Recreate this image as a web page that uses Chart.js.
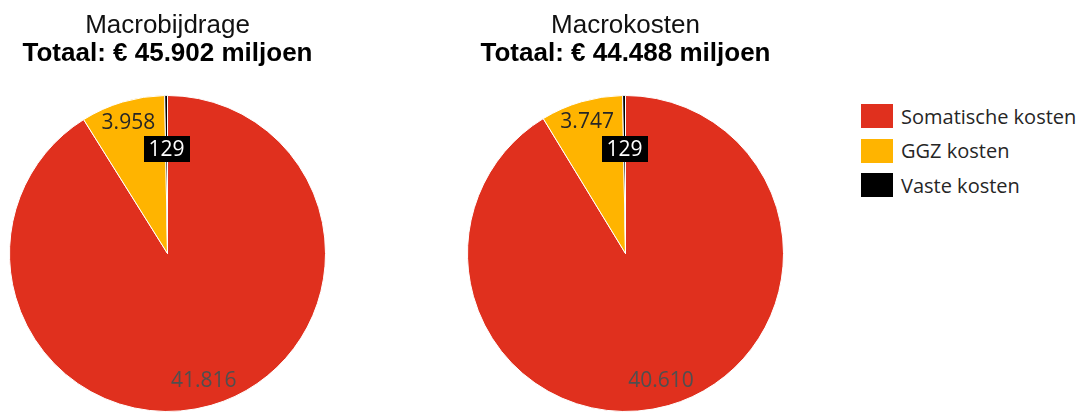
<!DOCTYPE html>
<html lang="nl">
<head>
<meta charset="utf-8">
<title>Macrobijdrage en macrokosten</title>
<script src="https://cdn.jsdelivr.net/npm/chart.js@4/dist/chart.umd.min.js"></script>
<style>
  body { margin: 0; background: #fff; width: 1081px; height: 412px; overflow: hidden; }
  .pie-box { position: absolute; top: 0; width: 335px; height: 412px; }
  #box-bijdrage { left: 0; }
  #box-kosten { left: 458px; }
  #legend { position: absolute; left: 861px; top: 104px; font-family: "Open Sans", sans-serif; font-size: 20px; color: #262626; }
  .lg-item { display: flex; align-items: center; height: 24px; margin-bottom: 10.5px; }
  .lg-swatch { width: 32px; height: 24px; margin-right: 8px; }
</style>
</head>
<body>
<div class="pie-box" id="box-bijdrage"><canvas id="chart-bijdrage"></canvas></div>
<div class="pie-box" id="box-kosten"><canvas id="chart-kosten"></canvas></div>
<div id="legend"></div>

<script>
// ---- data (miljoen euro) ----
const categories = ['Somatische kosten', 'GGZ kosten', 'Vaste kosten'];
const bijdrageValues = [41816, 3958, 129];
const kostenValues = [40610, 3747, 129];
const titles = ['Macrobijdrage', 'Macrokosten'];
const totals = ['Totaal: € 45.902 miljoen', 'Totaal: € 44.488 miljoen'];
const sliceColors = ['#E0301E', '#FFB400', '#000000'];

// label look per slice
const labelRadius = [0.83, 0.87, 0.66];
const labelColors = ['#4f4f4f', '#262626', '#ffffff'];
const labelBoxes = [null, null, '#000000'];

function fmt(v) {
    return String(v).replace(/\B(?=(\d{3})+(?!\d))/g, '.');
}

// draws the value labels on the slices
const sliceLabels = {
    id: 'sliceLabels',
    afterDatasetsDraw(chart) {
        const ctx = chart.ctx;
        const meta = chart.getDatasetMeta(0);
        const values = chart.data.datasets[0].data;
        ctx.save();
        ctx.font = '21px "Open Sans", sans-serif';
        ctx.textAlign = 'center';
        ctx.textBaseline = 'middle';
        meta.data.forEach((arc, i) => {
            const mid = (arc.startAngle + arc.endAngle) / 2;
            const r = arc.outerRadius * labelRadius[i];
            const x = arc.x + Math.cos(mid) * r;
            const y = arc.y + Math.sin(mid) * r;
            const txt = fmt(values[i]);
            if (labelBoxes[i]) {
                const w = ctx.measureText(txt).width + 10;
                ctx.fillStyle = labelBoxes[i];
                ctx.fillRect(Math.round(x - w / 2), Math.round(y - 13), Math.round(w), 26);
            }
            ctx.fillStyle = labelColors[i];
            ctx.fillText(txt, x, y + 1);
        });
        ctx.restore();
    }
};

function makePie(canvasId, values, title, total) {
    return new Chart(document.getElementById(canvasId), {
        type: 'pie',
        data: {
            labels: categories,
            datasets: [{
                data: values,
                backgroundColor: sliceColors,
                borderColor: '#ffffff',
                borderWidth: 1
            }]
        },
        options: {
            responsive: true,
            maintainAspectRatio: false,
            animation: false,
            layout: { padding: 0 },
            plugins: {
                legend: { display: false },
                tooltip: { enabled: false },
                title: {
                    display: true,
                    text: title,
                    color: '#111111',
                    font: { family: '"Liberation Sans", Arial, sans-serif', size: 26, weight: 'normal', lineHeight: 1 },
                    padding: { top: 13, bottom: 2 }
                },
                subtitle: {
                    display: true,
                    text: total,
                    color: '#000000',
                    font: { family: '"Liberation Sans", Arial, sans-serif', size: 26, weight: 'bold', lineHeight: 1 },
                    padding: { top: 0, bottom: 28 }
                }
            }
        },
        plugins: [sliceLabels]
    });
}

makePie('chart-bijdrage', bijdrageValues, titles[0], totals[0]);
makePie('chart-kosten', kostenValues, titles[1], totals[1]);

// legend
const legendEl = document.getElementById('legend');
legendEl.innerHTML = categories.map((c, i) => `
  <div class="lg-item">
    <div class="lg-swatch" style="background:${sliceColors[i]}"></div>
    <span>${c}</span>
  </div>`).join('');
</script>
</body>
</html>
